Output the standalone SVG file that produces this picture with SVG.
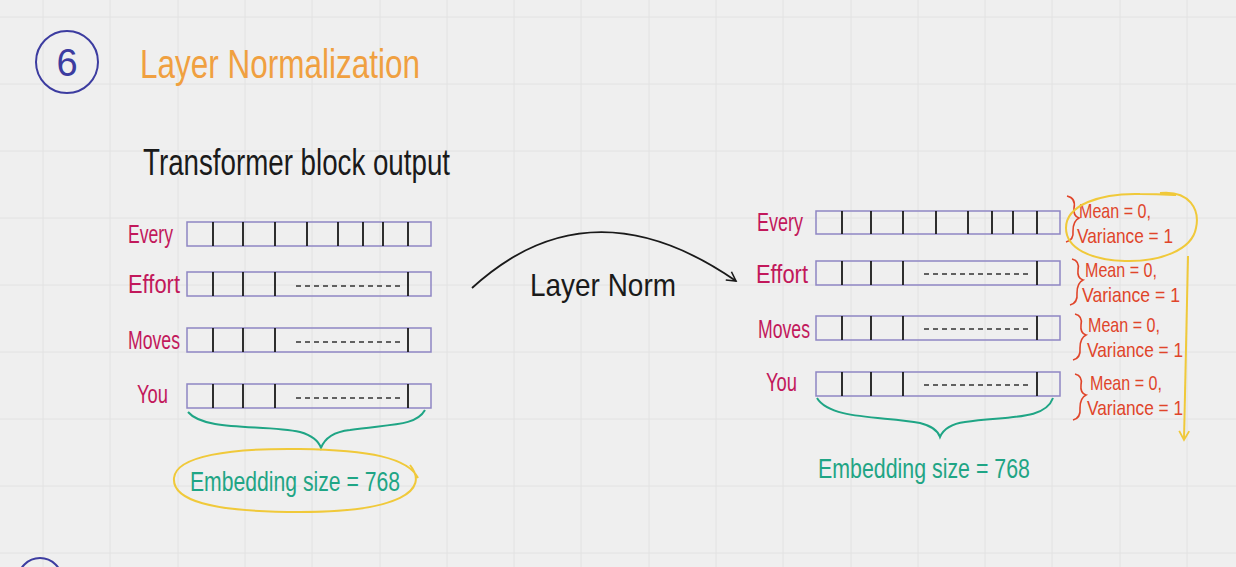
<svg xmlns="http://www.w3.org/2000/svg" width="1236" height="567" viewBox="0 0 1236 567">
<defs>
<style>
.bg{fill:#efefef}
.grid{stroke:#e2e2e2;stroke-width:1;fill:none}
.box{fill:none;stroke:#8f86c4;stroke-width:1.5}
.div{stroke:#1a1a1a;stroke-width:1.8;fill:none}
.dots{stroke:#333;stroke-width:1.5;stroke-dasharray:5 4;fill:none}
.lab{font-family:"Liberation Sans",Arial,sans-serif;fill:#c2185b;font-size:26px}
.ann{font-family:"Liberation Sans",Arial,sans-serif;fill:#e0452a;font-size:21px}
.annb{stroke:#e0452a;stroke-width:1.6;fill:none}
.teal{stroke:#1fa585;stroke-width:2;fill:none}
.tealt{font-family:"Liberation Sans",Arial,sans-serif;fill:#1fa585;font-size:27px}
.yel{stroke:#f0c93a;stroke-width:2;fill:none}
.blk{font-family:"Liberation Sans",Arial,sans-serif;fill:#1a1a1a}
</style>
<marker id="ah" viewBox="0 0 12 12" refX="10" refY="6" markerWidth="12" markerHeight="12" markerUnits="userSpaceOnUse" orient="auto">
<path d="M1,1 L10,6 L1,11" fill="none" stroke="#1a1a1a" stroke-width="1.6"/>
</marker>
<marker id="ahy" viewBox="0 0 12 12" refX="10" refY="6" markerWidth="12" markerHeight="12" markerUnits="userSpaceOnUse" orient="auto">
<path d="M1,1 L10,6 L1,11" fill="none" stroke="#f0c93a" stroke-width="1.8"/>
</marker>
</defs>
<rect class="bg" x="0" y="0" width="1236" height="567"/>
<g id="grid">
<path class="grid" d="M43,0V567M110,0V567M178,0V567M245,0V567M312,0V567M380,0V567M447,0V567M514,0V567M581,0V567M649,0V567M716,0V567M783,0V567M851,0V567M918,0V567M985,0V567M1052,0V567M1120,0V567M1187,0V567"/>
<path class="grid" d="M0,17H1236M0,84H1236M0,151H1236M0,218H1236M0,285H1236M0,352H1236M0,419H1236M0,486H1236M0,553H1236"/>
</g>
<g id="title">
<circle cx="67" cy="62" r="31" fill="none" stroke="#3c3ca0" stroke-width="2"/>
<text x="67" y="76" text-anchor="middle" font-family="Liberation Sans,Arial,sans-serif" font-size="38" fill="#3c3ca0">6</text>
<text x="140" y="78" font-family="Liberation Sans,Arial,sans-serif" font-size="40" fill="#f0a040" textLength="280" lengthAdjust="spacingAndGlyphs">Layer Normalization</text>
</g>
<g id="heading">
<text class="blk" x="143" y="175" font-size="36" textLength="307" lengthAdjust="spacingAndGlyphs">Transformer block output</text>
</g>
<g id="left-matrix">
<rect class="box" x="187" y="222" width="244" height="24"/>
<path class="div" d="M213,222V246M243,222V246M275,222V246M307,222V246M338,222V246M363,222V246M383,222V246M408,222V246"/>
<rect class="box" x="187" y="272" width="244" height="24"/>
<path class="div" d="M213,272V296M243,272V296M275,272V296M408,272V296"/>
<path class="dots" d="M296,286H402"/>
<rect class="box" x="187" y="328" width="244" height="24"/>
<path class="div" d="M213,328V352M243,328V352M275,328V352M408,328V352"/>
<path class="dots" d="M296,342H402"/>
<rect class="box" x="187" y="384" width="244" height="24"/>
<path class="div" d="M213,384V408M243,384V408M275,384V408M408,384V408"/>
<path class="dots" d="M296,398H402"/>
<text class="lab" x="128" y="243" textLength="45" lengthAdjust="spacingAndGlyphs">Every</text>
<text class="lab" x="128" y="293" textLength="52" lengthAdjust="spacingAndGlyphs">Effort</text>
<text class="lab" x="128" y="349" textLength="52" lengthAdjust="spacingAndGlyphs">Moves</text>
<text class="lab" x="137" y="403" textLength="31" lengthAdjust="spacingAndGlyphs">You</text>
</g>
<g id="left-embedding">
<path class="teal" d="M188,412 C205,432 265,424 300,432 C314,436 319,442 321,448 C324,440 332,432 350,430 C392,424 416,426 425,410"/>
<path class="yel" d="M410,465 C430,490 400,512 300,512 C210,512 172,500 174,478 C176,456 230,448 300,449 C370,450 408,458 418,478"/>
<text class="tealt" x="190" y="491" textLength="210" lengthAdjust="spacingAndGlyphs">Embedding size = 768</text>
</g>
<g id="connectors">
<path d="M472,288 Q590,180 736,281" fill="none" stroke="#1a1a1a" stroke-width="1.8" marker-end="url(#ah)"/>
<text class="blk" x="530" y="296" font-size="32" textLength="146" lengthAdjust="spacingAndGlyphs">Layer Norm</text>
<path class="yel" d="M1188,256 L1184,440" marker-end="url(#ahy)"/>
</g>
<g id="right-matrix">
<rect class="box" x="816" y="211" width="244" height="23"/>
<path class="div" d="M842,211V234M871,211V234M903,211V234M936,211V234M968,211V234M992,211V234M1013,211V234M1037,211V234"/>
<rect class="box" x="816" y="261" width="244" height="24"/>
<path class="div" d="M842,261V285M871,261V285M903,261V285M1037,261V285"/>
<path class="dots" d="M924,274H1030"/>
<rect class="box" x="816" y="316" width="244" height="24"/>
<path class="div" d="M842,316V340M871,316V340M903,316V340M1037,316V340"/>
<path class="dots" d="M924,329H1030"/>
<rect class="box" x="816" y="372" width="244" height="24"/>
<path class="div" d="M842,372V396M871,372V396M903,372V396M1037,372V396"/>
<path class="dots" d="M924,385H1030"/>
<text class="lab" x="757" y="231" textLength="46" lengthAdjust="spacingAndGlyphs">Every</text>
<text class="lab" x="756" y="283" textLength="52" lengthAdjust="spacingAndGlyphs">Effort</text>
<text class="lab" x="758" y="338" textLength="52" lengthAdjust="spacingAndGlyphs">Moves</text>
<text class="lab" x="766" y="391" textLength="31" lengthAdjust="spacingAndGlyphs">You</text>
</g>
<g id="right-stats">
<path class="annb" d="M1067,196 Q1076,198 1074,208 Q1073,216 1079,218 Q1073,221 1073,231 Q1074,240 1066,242"/>
<text class="ann" x="1079" y="218" textLength="72" lengthAdjust="spacingAndGlyphs">Mean = 0,</text>
<text class="ann" x="1077" y="243" textLength="96" lengthAdjust="spacingAndGlyphs">Variance = 1</text>
<path class="annb" d="M1072,259 Q1080,261 1078,270 Q1077,278 1083,280 Q1077,283 1077,293 Q1078,303 1070,305"/>
<text class="ann" x="1085" y="277" textLength="72" lengthAdjust="spacingAndGlyphs">Mean = 0,</text>
<text class="ann" x="1082" y="302" textLength="98" lengthAdjust="spacingAndGlyphs">Variance = 1</text>
<path class="annb" d="M1075,314 Q1083,316 1081,325 Q1080,333 1086,335 Q1080,338 1080,348 Q1081,358 1073,360"/>
<text class="ann" x="1088" y="332" textLength="72" lengthAdjust="spacingAndGlyphs">Mean = 0,</text>
<text class="ann" x="1087" y="357" textLength="96" lengthAdjust="spacingAndGlyphs">Variance = 1</text>
<path class="annb" d="M1075,374 Q1083,376 1081,385 Q1080,393 1086,395 Q1080,398 1080,408 Q1081,418 1073,420"/>
<text class="ann" x="1090" y="390" textLength="72" lengthAdjust="spacingAndGlyphs">Mean = 0,</text>
<text class="ann" x="1087" y="415" textLength="96" lengthAdjust="spacingAndGlyphs">Variance = 1</text>
<path class="yel" d="M1160,193 C1190,190 1200,210 1196,228 C1192,250 1160,262 1125,261 C1090,260 1066,248 1066,228 C1066,205 1100,193 1140,194 C1160,194 1175,195 1176,195"/>
</g>
<g id="right-embedding">
<path class="teal" d="M817,398 C830,420 885,416 920,423 C932,426 938,431 940,437 C943,430 950,424 965,422 C1010,416 1045,420 1053,398"/>
<text class="tealt" x="818" y="478" textLength="212" lengthAdjust="spacingAndGlyphs">Embedding size = 768</text>
</g>
<g id="next-section">
<circle cx="40" cy="580" r="22" fill="none" stroke="#3c3ca0" stroke-width="2"/>
</g>
</svg>
